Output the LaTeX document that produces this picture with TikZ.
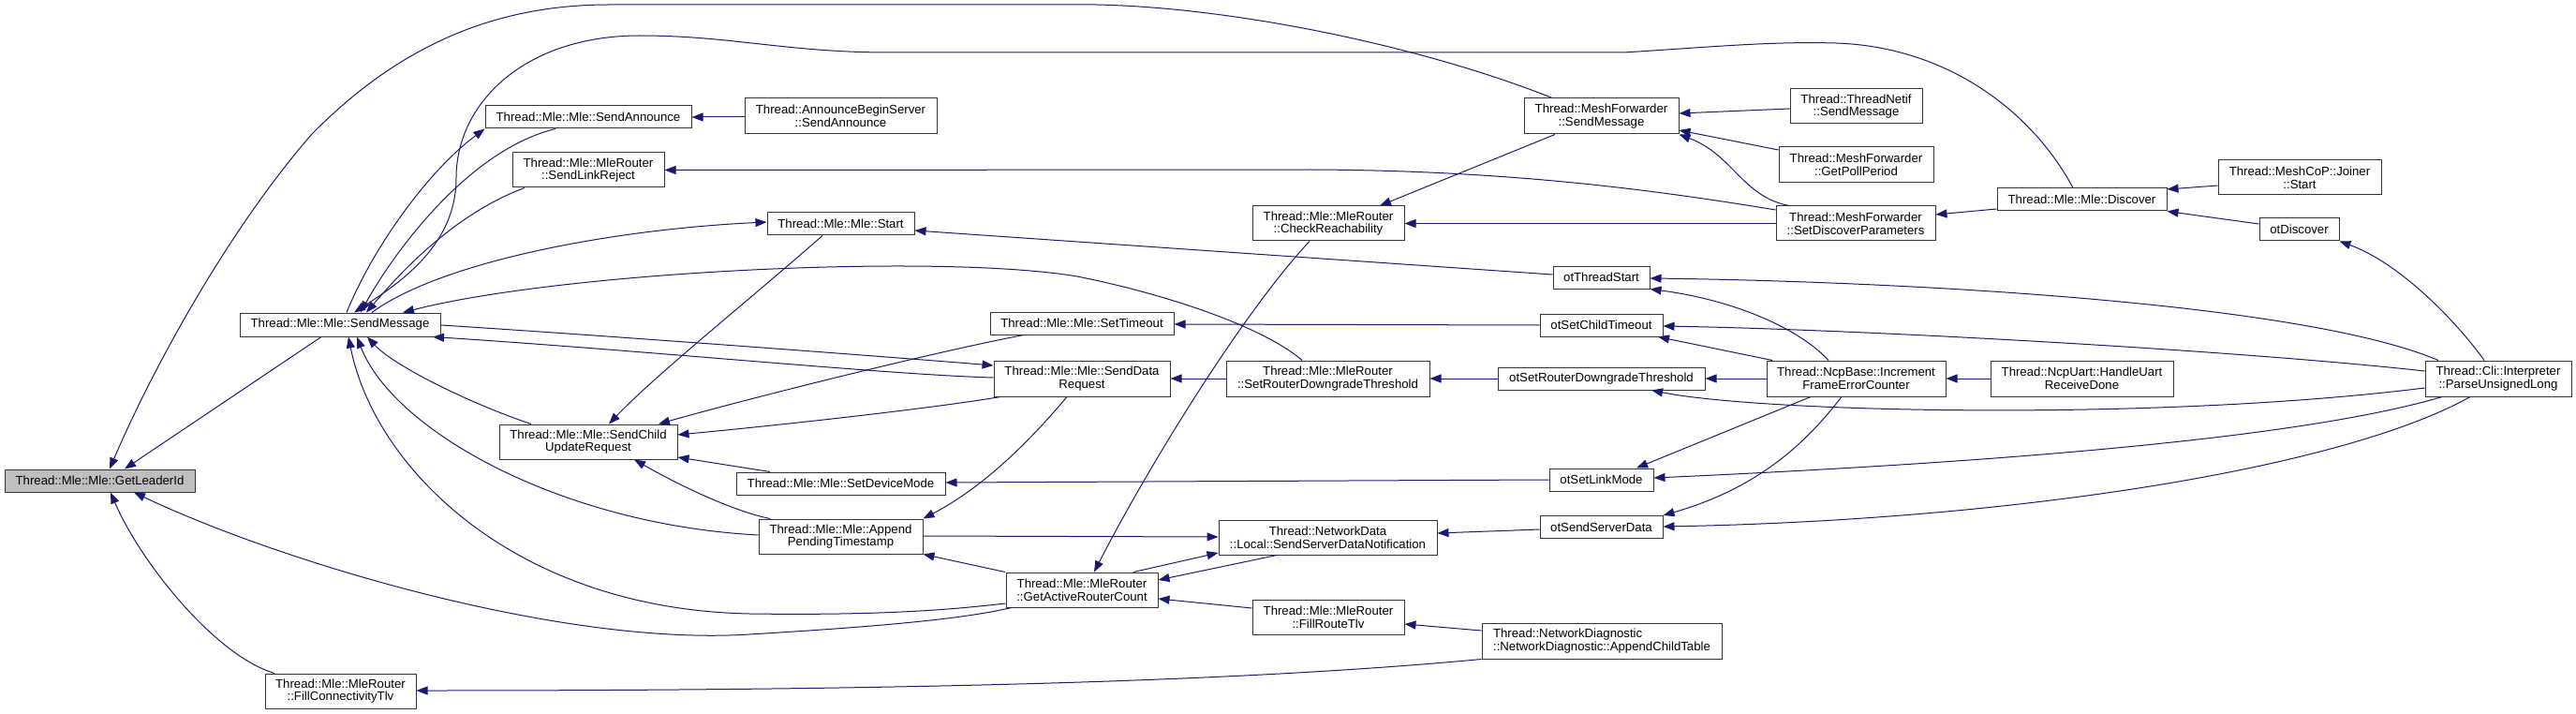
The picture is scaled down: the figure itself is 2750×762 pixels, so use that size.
\documentclass[tikz,border=0pt]{standalone}
\usepackage{fontspec}
\setmainfont{Liberation Sans}
\usetikzlibrary{arrows.meta}
\definecolor{edgec}{HTML}{191970}
\definecolor{leadfill}{HTML}{BFBFBF}
\begin{document}
\begin{tikzpicture}[x=1pt,y=-1pt,
  box/.style={draw=black!80, line width=1pt, fill=white, inner sep=0pt, align=center,
    font=\fontsize{13.2}{13.6}\selectfont, text=black},
  edge/.style={draw=edgec, line width=1pt, {Triangle[length=12pt,width=9pt]}-}]
\useasboundingbox (0,0) rectangle (2750,762);
% nodes
\node[box, minimum width=203pt, minimum height=24pt, fill=leadfill] (lead) at (106.5,513) {Thread::Mle::Mle::GetLeaderId};
\node[box, minimum width=214pt, minimum height=25pt] (smsg) at (363,346.5) {Thread::Mle::Mle::SendMessage};
\node[box, minimum width=161pt, minimum height=37pt] (fct) at (363.5,737.5) {Thread::Mle::MleRouter\\::FillConnectivityTlv};
\node[box, minimum width=220pt, minimum height=24pt] (sann) at (628,125) {Thread::Mle::Mle::SendAnnounce};
\node[box, minimum width=162pt, minimum height=37pt] (slr) at (628,181.5) {Thread::Mle::MleRouter\\::SendLinkReject};
\node[box, minimum width=205pt, minimum height=38pt] (abs) at (897.5,124) {Thread::AnnounceBeginServer\\::SendAnnounce};
\node[box, minimum width=157pt, minimum height=24pt] (start) at (897.5,239) {Thread::Mle::Mle::Start};
\node[box, minimum width=190pt, minimum height=37pt] (scur) at (628,471.5) {Thread::Mle::Mle::SendChild\\UpdateRequest};
\node[box, minimum width=223pt, minimum height=24pt] (sdm) at (897.5,516) {Thread::Mle::Mle::SetDeviceMode};
\node[box, minimum width=175pt, minimum height=37pt] (apt) at (897.5,572.5) {Thread::Mle::Mle::Append\\PendingTimestamp};
\node[box, minimum width=196pt, minimum height=24pt] (sto) at (1155,345) {Thread::Mle::Mle::SetTimeout};
\node[box, minimum width=188pt, minimum height=38pt] (sdr) at (1155,404) {Thread::Mle::Mle::SendData\\Request};
\node[box, minimum width=162pt, minimum height=37pt] (gar) at (1155,629.5) {Thread::Mle::MleRouter\\::GetActiveRouterCount};
\node[box, minimum width=162pt, minimum height=37pt] (crh) at (1418,238.5) {Thread::Mle::MleRouter\\::CheckReachability};
\node[box, minimum width=217pt, minimum height=38pt] (srdt) at (1417.5,404) {Thread::Mle::MleRouter\\::SetRouterDowngradeThreshold};
\node[box, minimum width=233pt, minimum height=37pt] (lsdn) at (1417.5,573.5) {Thread::NetworkData\\::Local::SendServerDataNotification};
\node[box, minimum width=162pt, minimum height=37pt] (frt) at (1418,658.5) {Thread::Mle::MleRouter\\::FillRouteTlv};
\node[box, minimum width=165pt, minimum height=38pt] (mfsm) at (1709.5,124) {Thread::MeshForwarder\\::SendMessage};
\node[box, minimum width=103pt, minimum height=24pt] (ots) at (1709.5,296) {otThreadStart};
\node[box, minimum width=131pt, minimum height=24pt] (osct) at (1709.5,347) {otSetChildTimeout};
\node[box, minimum width=221pt, minimum height=24pt] (osrdt) at (1709.5,404) {otSetRouterDowngradeThreshold};
\node[box, minimum width=111pt, minimum height=24pt] (oslm) at (1709.5,512) {otSetLinkMode};
\node[box, minimum width=131pt, minimum height=24pt] (ossd) at (1709.5,562.5) {otSendServerData};
\node[box, minimum width=256pt, minimum height=38pt, align=left] (act) at (1710,684) {Thread::NetworkDiagnostic\\::NetworkDiagnostic::AppendChildTable};
\node[box, minimum width=141pt, minimum height=37pt] (tnsm) at (1981.5,113.5) {Thread::ThreadNetif\\::SendMessage};
\node[box, minimum width=165pt, minimum height=38pt] (gpp) at (1981.5,176) {Thread::MeshForwarder\\::GetPollPeriod};
\node[box, minimum width=170pt, minimum height=37pt] (sdp) at (1981,238.5) {Thread::MeshForwarder\\::SetDiscoverParameters};
\node[box, minimum width=181pt, minimum height=24pt] (disc) at (2222.5,213) {Thread::Mle::Mle::Discover};
\node[box, minimum width=191pt, minimum height=38pt] (ifec) at (1981.5,404) {Thread::NcpBase::Increment\\FrameErrorCounter};
\node[box, minimum width=195pt, minimum height=38pt] (hurd) at (2222.5,404) {Thread::NcpUart::HandleUart\\ReceiveDone};
\node[box, minimum width=174pt, minimum height=37pt] (join) at (2455,189.5) {Thread::MeshCoP::Joiner\\::Start};
\node[box, minimum width=85pt, minimum height=24pt] (otd) at (2454.5,245) {otDiscover};
\node[box, minimum width=156pt, minimum height=38pt] (pul) at (2667,404) {Thread::Cli::Interpreter\\::ParseUnsignedLong};
% edges (arrow at callee)
\draw[edge] (133,0 |- lead.north) -- (343,0 |- smsg.south);
\draw[edge] (117,0 |- lead.north) .. controls (160,400) and (240,250) .. (333,143) .. controls (420,55) and (520,5) .. (650,5) -- (1170,5) .. controls (1320,8) and (1520,50) .. (1657,0 |- mfsm.north);
\draw[edge] (143,0 |- lead.south) .. controls (300,600) and (600,690) .. (800,677) .. controls (950,668) and (1030,660) .. (1080,0 |- gar.south);
\draw[edge] (118,0 |- lead.south) .. controls (150,600) and (230,700) .. (293,0 |- fct.north);
\draw[edge] (fct.east |- 0,737) .. controls (900,737) and (1300,730) .. (act.south west);
\draw[edge] (378,0 |- smsg.north) .. controls (430,300) and (487,260) .. (487,190) .. controls (487,110) and (560,38) .. (683,38) .. controls (780,38) and (840,56) .. (950,56) -- (1733,56) .. controls (1830,50) and (1890,44) .. (1960,46) .. controls (2080,50) and (2170,120) .. (2213,0 |- disc.north);
\draw[edge] (385,0 |- smsg.north) .. controls (420,270) and (500,160) .. (593,0 |- sann.south);
\draw[edge] (sann.south west) .. controls (460,180) and (400,260) .. (370,0 |- smsg.north);
\draw[edge] (391,0 |- smsg.north) .. controls (420,300) and (480,230) .. (560,0 |- slr.south);
\draw[edge] (start.west |- 0,237) .. controls (650,245) and (470,280) .. (397,0 |- smsg.north);
\draw[edge] (430,0 |- smsg.north) .. controls (600,290) and (1000,270) .. (1150,295) .. controls (1250,315) and (1350,350) .. (1390,0 |- srdt.north);
\draw[edge] (462,0 |- smsg.south) .. controls (700,375) and (950,400) .. (sdr.west |- 0,403);
\draw[edge] (sdr.west |- 0,390) .. controls (900,377) and (600,355) .. (smsg.east |- 0,347);
\draw[edge] (392,0 |- smsg.south) .. controls (420,390) and (500,430) .. (567,0 |- scur.north);
\draw[edge] (381,0 |- smsg.south) .. controls (420,460) and (600,560) .. (apt.west |- 0,571);
\draw[edge] (372,0 |- smsg.south) .. controls (400,500) and (550,650) .. (800,655) .. controls (950,657) and (1020,650) .. (gar.west |- 0,644);
\draw[edge] (650,0 |- scur.north) .. controls (700,400) and (800,320) .. (878,0 |- start.south);
\draw[edge] (703,0 |- scur.north) .. controls (800,425) and (1000,375) .. (1093,0 |- sto.south);
\draw[edge] (scur.east |- 0,464) .. controls (850,452) and (1000,435) .. (1068,0 |- sdr.south);
\draw[edge] (scur.east |- 0,488) -- (822,0 |- sdm.north);
\draw[edge] (677,0 |- scur.south) .. controls (720,515) and (780,545) .. (822,0 |- apt.north);
\draw[edge] (sdr.east) -- (srdt.west);
\draw[edge] (apt.north east) .. controls (1050,520) and (1100,470) .. (1139,0 |- sdr.south);
\draw[edge] (sdm.east |- 0,515) -- (oslm.west |- 0,512);
\draw[edge] (lsdn.west |- 0,573) -- (apt.east |- 0,572);
\draw[edge] (apt.south east) -- (1073,0 |- gar.north);
\draw[edge] (1168,0 |- gar.north) .. controls (1230,490) and (1330,330) .. (1398,0 |- crh.south);
\draw[edge] (lsdn.west |- 0,590) -- (1210,0 |- gar.north);
\draw[edge] (gar.east |- 0,619) -- (1363,0 |- lsdn.south);
\draw[edge] (gar.east |- 0,639) -- (frt.west |- 0,649);
\draw[edge] (1473,0 |- crh.north) -- (1660,0 |- mfsm.south);
\draw[edge] (crh.east) -- (sdp.west);
\draw[edge] (mfsm.east |- 0,121) -- (tnsm.west |- 0,116);
\draw[edge] (mfsm.east |- 0,139) -- (gpp.west |- 0,160);
\draw[edge] (mfsm.south east) .. controls (1850,165) and (1860,210) .. (1910,0 |- sdp.north);
\draw[edge] (slr.east) -- (1400,181) .. controls (1600,182) and (1750,200) .. (sdp.west |- 0,224);
\draw[edge] (sdp.east |- 0,229) -- (disc.west |- 0,223);
\draw[edge] (disc.east |- 0,202) -- (join.west |- 0,198);
\draw[edge] (disc.south east) -- (otd.west |- 0,239);
\draw[edge] (otd.south east) .. controls (2560,280) and (2620,340) .. (2652,0 |- pul.north);
\draw[edge] (ots.east |- 0,297) .. controls (2000,300) and (2450,320) .. (2603,0 |- pul.north);
\draw[edge] (osct.east |- 0,348) .. controls (2000,352) and (2400,375) .. (pul.west |- 0,396);
\draw[edge] (1763,0 |- osrdt.south) .. controls (1880,440) and (2300,450) .. (pul.west |- 0,414);
\draw[edge] (oslm.east |- 0,510) .. controls (2100,495) and (2450,470) .. (2607,0 |- pul.south);
\draw[edge] (ossd.east |- 0,562) .. controls (2150,555) and (2500,500) .. (2637,0 |- pul.south);
\draw[edge] (osrdt.east) -- (ifec.west);
\draw[edge] (1770,0 |- osct.south) -- (1892,0 |- ifec.north);
\draw[edge] (ots.south east) .. controls (1850,320) and (1920,350) .. (1952,0 |- ifec.north);
\draw[edge] (1747,0 |- oslm.north) -- (1933,0 |- ifec.south);
\draw[edge] (ossd.north east) .. controls (1880,520) and (1930,470) .. (1966,0 |- ifec.south);
\draw[edge] (ifec.east) -- (hurd.west);
\draw[edge] (srdt.east) -- (osrdt.west);
\draw[edge] (lsdn.east |- 0,569) -- (ossd.west |- 0,565);
\draw[edge] (frt.east |- 0,666) -- (act.west |- 0,673);
\draw[edge] (sann.east) -- (abs.west |- 0,125);
\draw[edge] (start.east |- 0,246) -- (ots.west |- 0,293);
\draw[edge] (sto.east |- 0,346) -- (osct.west |- 0,347);
\end{tikzpicture}
\end{document}
